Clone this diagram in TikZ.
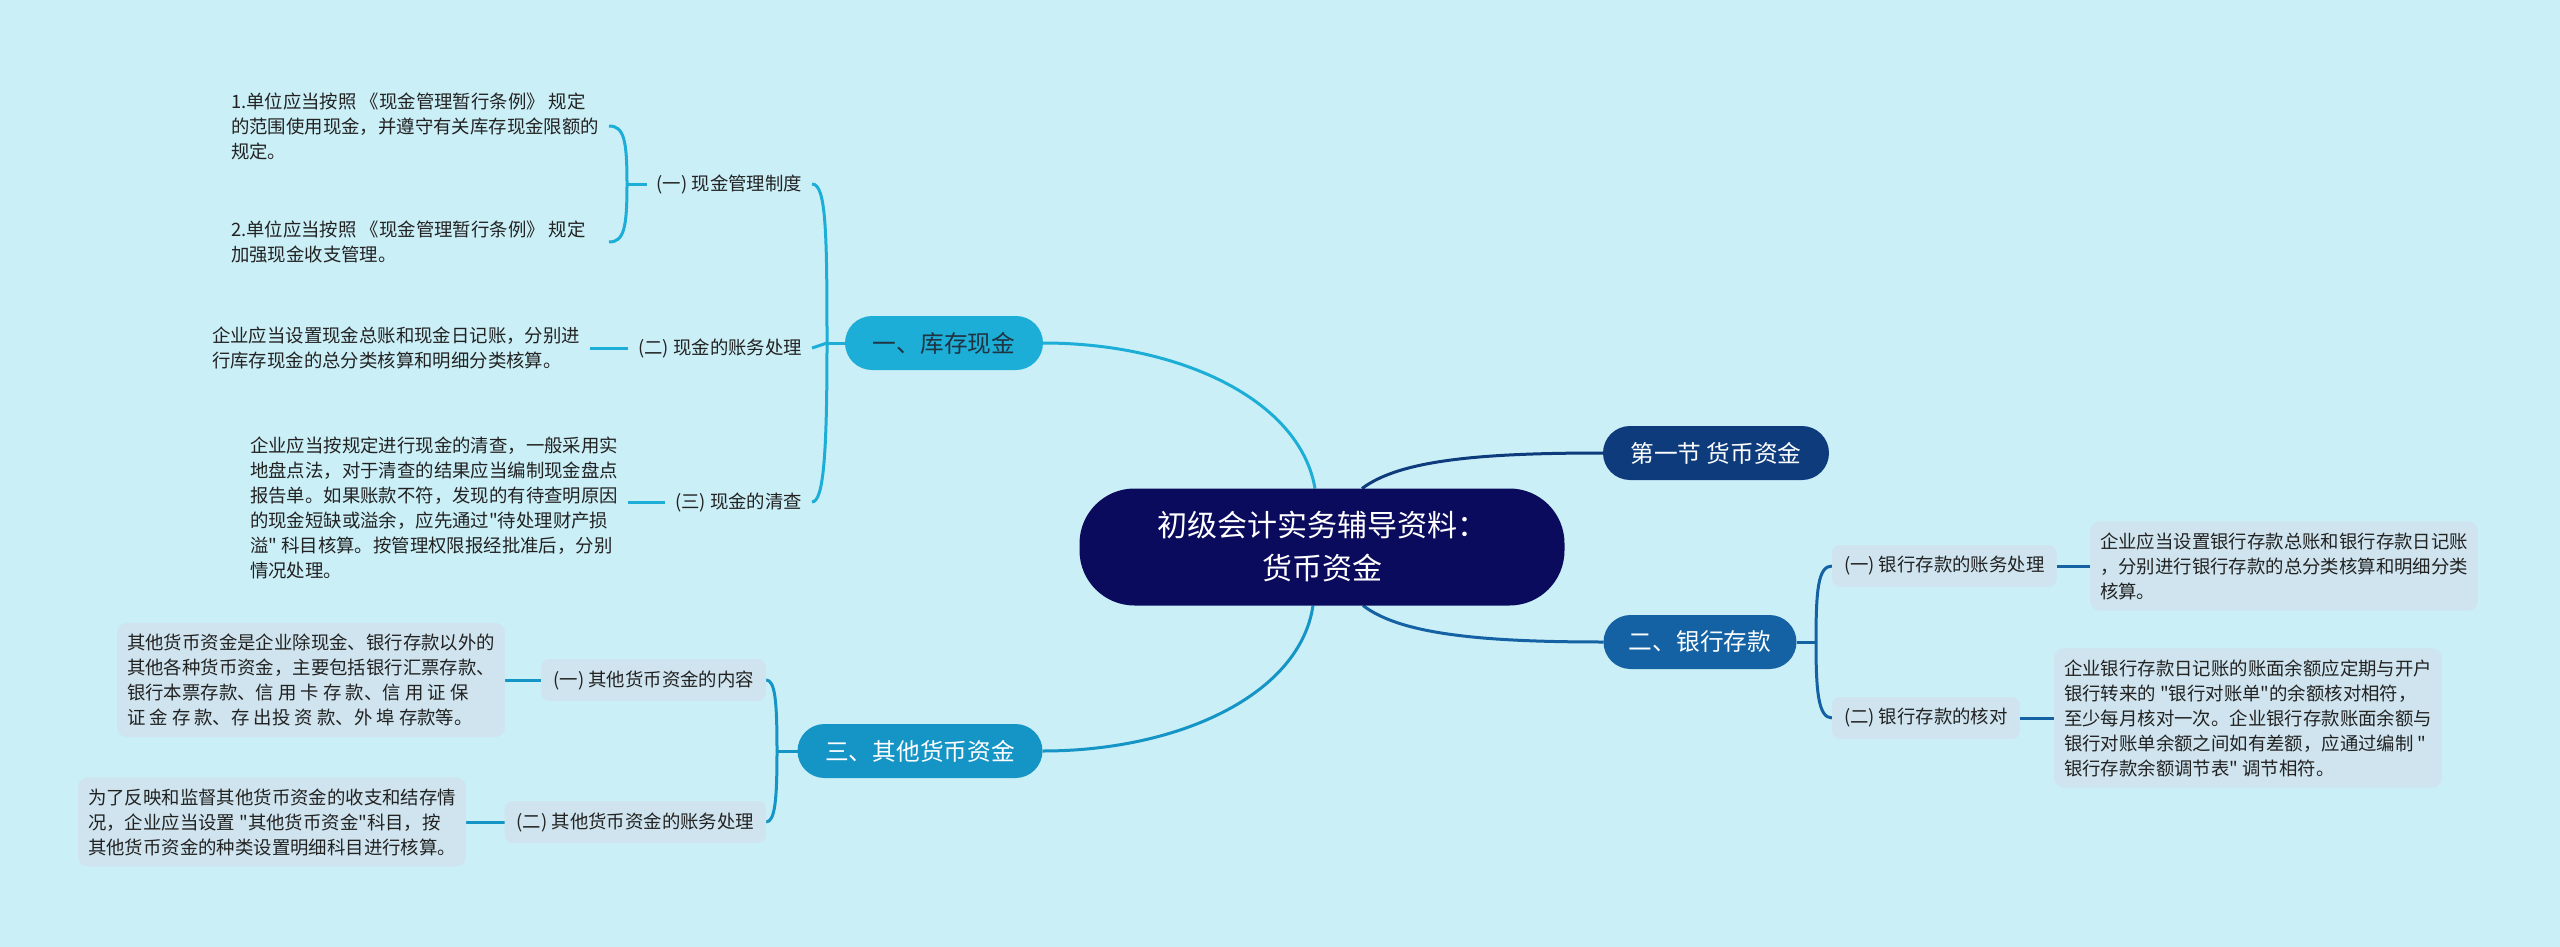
\documentclass[tikz,border=0pt]{standalone}
\usepackage{fontspec}
\setmainfont{Noto Sans CJK SC}[Ligatures=TeXOff]
\usetikzlibrary{calc}
\pgfdeclarelayer{bglayer}
\pgfsetlayers{bglayer,main}
\definecolor{bg}{HTML}{CBEFF7}
\definecolor{rootc}{HTML}{0B0B5E}
\definecolor{s1c}{HTML}{0D3B7C}
\definecolor{b2c}{HTML}{1462A4}
\definecolor{b1c}{HTML}{1CAED6}
\definecolor{b3c}{HTML}{1594C6}
\definecolor{leafc}{HTML}{CFE4EE}
\definecolor{txt}{HTML}{222222}
\definecolor{dtxt}{HTML}{1F3340}
\begin{document}
\begin{tikzpicture}[x=1pt,y=-1pt,
  every node/.style={inner sep=0pt, outer sep=0pt},
  rootbox/.style={fill=rootc, text=white, rounded corners=55pt, minimum width=485pt, minimum height=117pt, align=center, font=\fontsize{30}{43}\selectfont},
  mainbox/.style={rounded corners=27pt, minimum height=54pt, font=\fontsize{23.7}{28}\selectfont, text=white},
  midplain/.style={inner xsep=10pt, font=\fontsize{18.4}{25}\selectfont, text=txt},
  midbox/.style={fill=leafc, rounded corners=8pt, inner xsep=12pt, minimum height=42pt, font=\fontsize{18.4}{25}\selectfont, text=txt},
  leafplain/.style={inner xsep=10pt, align=left, font=\fontsize{18.4}{25}\selectfont, text=txt},
  leafbox/.style={fill=leafc, rounded corners=10pt, inner xsep=10pt, inner ysep=11pt, align=left, font=\fontsize{18.4}{25}\selectfont, text=txt},
  conn/.style={line width=3pt}
]
\useasboundingbox (0,0) rectangle (2560,947);

% central and main branches
\node[rootbox] (root) at (1322,547) {初级会计实务辅导资料：\\货币资金};
\node[mainbox, fill=s1c, minimum width=226pt] (s1) at (1716,453) {第一节 货币资金};
\node[mainbox, fill=b2c, minimum width=193pt] (b2) at (1700,642) {二、银行存款};
\node[mainbox, fill=b1c, text=dtxt, minimum width=198pt] (b1) at (944,343) {一、库存现金};
\node[mainbox, fill=b3c, minimum width=245pt] (b3) at (920,751) {三、其他货币资金};

% second level
\node[midplain, anchor=east] (m11) at (812,184) {(一) 现金管理制度};
\node[midplain, anchor=east] (m12) at (812,348) {(二) 现金的账务处理};
\node[midplain, anchor=east] (m13) at (812,502) {(三) 现金的清查};
\node[midbox, anchor=east] (m31) at (766,680) {(一) 其他货币资金的内容};
\node[midbox, anchor=east] (m32) at (766,822) {(二) 其他货币资金的账务处理};
\node[midbox, anchor=west] (m21) at (1832,566) {(一) 银行存款的账务处理};
\node[midbox, anchor=west] (m22) at (1832,718) {(二) 银行存款的核对};

% leaves
\node[leafplain, anchor=west] (l111) at (221,126) {1.单位应当按照 《现金管理暂行条例》 规定\\的范围使用现金，并遵守有关库存现金限额的\\规定。};
\node[leafplain, anchor=west] (l112) at (221,242) {2.单位应当按照 《现金管理暂行条例》 规定\\加强现金收支管理。};
\node[leafplain, anchor=west] (l12) at (202,348) {企业应当设置现金总账和现金日记账，分别进\\行库存现金的总分类核算和明细分类核算。};
\node[leafplain, anchor=west] (l13) at (240,508) {企业应当按规定进行现金的清查，一般采用实\\地盘点法，对于清查的结果应当编制现金盘点\\报告单。如果账款不符，发现的有待查明原因\\的现金短缺或溢余，应先通过"待处理财产损\\溢" 科目核算。按管理权限报经批准后，分别\\情况处理。};
\node[leafbox, anchor=west] (l31) at (117,680) {其他货币资金是企业除现金、银行存款以外的\\其他各种货币资金，主要包括银行汇票存款、\\银行本票存款、信 用 卡 存 款、信 用 证 保\\证 金 存 款、存 出投 资 款、外 埠 存款等。};
\node[leafbox, anchor=west] (l32) at (78,822) {为了反映和监督其他货币资金的收支和结存情\\况，企业应当设置 "其他货币资金"科目，按\\其他货币资金的种类设置明细科目进行核算。};
\node[leafbox, anchor=west] (l21) at (2090,566) {企业应当设置银行存款总账和银行存款日记账\\，分别进行银行存款的总分类核算和明细分类\\核算。};
\node[leafbox, anchor=west] (l22) at (2054,718) {企业银行存款日记账的账面余额应定期与开户\\银行转来的 "银行对账单"的余额核对相符，\\至少每月核对一次。企业银行存款账面余额与\\银行对账单余额之间如有差额，应通过编制 "\\银行存款余额调节表" 调节相符。};

% junction coordinates
\coordinate (rt1) at ($(root.north)+(-7,0)$);
\coordinate (rt2) at ($(root.north)+(40,0)$);
\coordinate (rb1) at ($(root.south)+(-9,0)$);
\coordinate (rb2) at ($(root.south)+(41,0)$);
\coordinate (j1) at (827,343);
\coordinate (j11) at (627,184);
\coordinate (j3) at (777,751);
\coordinate (j2) at (1816,642);

\begin{pgfonlayer}{bglayer}
\fill[bg] (0,0) rectangle (2560,947);
% root connectors
\draw[conn,b1c] (rt1) .. controls (1300,400) and (1180,343) .. (b1.east);
\draw[conn,b3c] (rb1) .. controls (1300,694) and (1180,751) .. (b3.east);
\draw[conn,s1c] (rt2) .. controls (1400,460) and (1480,453) .. (s1.west);
\draw[conn,b2c] (rb2) .. controls (1400,634) and (1480,642) .. (b2.west);
% branch one
\draw[conn,b1c] (b1.west) -- (j1);
\draw[conn,b1c] (j1) .. controls (827,230) and (826,184) .. (m11.east);
\draw[conn,b1c] (j1) -- (m12.east);
\draw[conn,b1c] (j1) .. controls (827,450) and (824,502) .. (m13.east);
\draw[conn,b1c] (m11.west) -- (j11);
\draw[conn,b1c] (j11) .. controls (627,140) and (624,126) .. (l111.east);
\draw[conn,b1c] (j11) .. controls (627,228) and (624,242) .. (l112.east -| l111.east);
\draw[conn,b1c] (l12.east) -- (m12.west);
\draw[conn,b1c] (m13.west) -- (m13.west -| l13.east);
% branch three
\draw[conn,b3c] (b3.west) -- (j3);
\draw[conn,b3c] (j3) .. controls (777,700) and (775,680) .. (m31.east);
\draw[conn,b3c] (j3) .. controls (777,800) and (775,822) .. (m32.east);
\draw[conn,b3c] (l31.east) -- (m31.west);
\draw[conn,b3c] (l32.east) -- (m32.west);
% branch two
\draw[conn,b2c] (b2.east) -- (j2);
\draw[conn,b2c] (j2) .. controls (1816,590) and (1818,566) .. (m21.west);
\draw[conn,b2c] (j2) .. controls (1816,690) and (1818,718) .. (m22.west);
\draw[conn,b2c] (m21.east) -- (l21.west);
\draw[conn,b2c] (m22.east) -- (l22.west);
\end{pgfonlayer}
\end{tikzpicture}
\end{document}
